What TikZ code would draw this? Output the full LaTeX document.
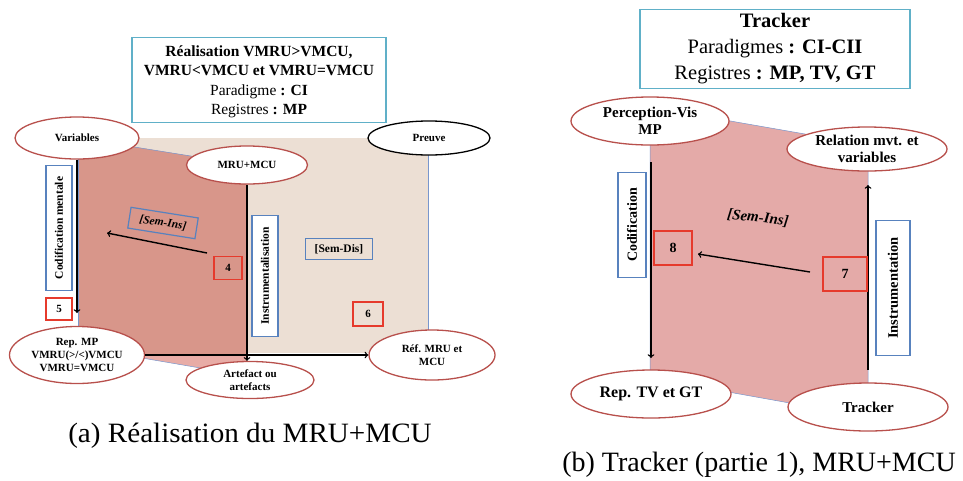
\documentclass[tikz,border=0pt]{standalone}
\usepackage{fontspec}
\setmainfont{Liberation Serif}
\usetikzlibrary{shapes.geometric}

\definecolor{ellred}{RGB}{184,80,76}
\definecolor{boxblue}{RGB}{88,130,190}
\definecolor{titleblue}{RGB}{96,176,200}
\definecolor{numred}{RGB}{230,58,44}
\definecolor{beige}{RGB}{236,223,212}
\definecolor{darkpink}{RGB}{216,150,138}
\definecolor{lightpink}{RGB}{232,172,166}
\definecolor{panelpink}{RGB}{228,170,168}
\definecolor{edgeblue}{RGB}{120,150,205}

\tikzset{
  ell/.style={ellipse, draw=ellred, line width=1.3pt, fill=white, inner sep=0pt,
    align=center, font=\bfseries\fontsize{11}{13}\selectfont},
  bigell/.style={ell, font=\bfseries\fontsize{15}{17}\selectfont},
  label/.style={draw=boxblue, line width=1.2pt, inner sep=0pt, align=center,
    font=\bfseries\fontsize{11.5}{13}\selectfont},
  numbox/.style={draw=numred, line width=1.6pt, inner sep=0pt,
    font=\bfseries\fontsize{11}{13}\selectfont},
  titlebox/.style={draw=titleblue, line width=1.5pt, fill=white, inner sep=0pt, align=center},
  arr/.style={line width=1.4pt,->},
  edge/.style={edgeblue, line width=0.5pt}
}

\begin{document}
\begin{tikzpicture}[x=1pt,y=-1pt]
    \useasboundingbox (0,0) rectangle (963,480);

    % (a) background areas
    \fill[beige] (78,138) rectangle (428,353);
    \fill[lightpink] (78,138) -- (247,165) -- (247,376) -- (78,347) -- cycle;
    \begin{scope}
      \clip (78,138) rectangle (428,353);
      \fill[darkpink] (78,138) -- (247,165) -- (247,376) -- (78,347) -- cycle;
    \end{scope}
    \draw[edge] (78,138) -- (247,165);
    \draw[edge] (78,347) -- (247,376);
    \draw[edge] (78,138) -- (78,347);
    \draw[edge] (428,138) -- (428,353);

    % (a) title
    \node[titlebox, minimum width=254, minimum height=85] (titlea) at (259,80) {};
    \node[align=center, font=\fontsize{15.5}{19.5}\selectfont] at (259,82)
      {\textbf{Réalisation VMRU>VMCU,}\\ \textbf{VMRU<VMCU et VMRU=VMCU}\\
       Paradigme \textbf{: CI}\\ Registres \textbf{: MP}};

    % (a) states
    \node[ell, minimum width=124, minimum height=42] (var) at (77,138) {Variables};
    \node[ell, minimum width=121, minimum height=38] (mru) at (247,165) {MRU+MCU};
    \node[ell, draw=black, minimum width=122, minimum height=34] (preuve) at (429,138) {Preuve};
    \node[ell, minimum width=135, minimum height=57] (rep) at (77,355)
      {Rep. MP\\VMRU(>/<)VMCU\\VMRU=VMCU};
    \node[ell, minimum width=128, minimum height=37] (art) at (250,380) {Artefact ou\\artefacts};
    \node[ell, minimum width=126, minimum height=50] (ref) at (432,355) {Réf. MRU et\\MCU};

    % (a) arrows
    \coordinate (codend) at (77,313);
    \coordinate (semstart) at (207,253);
    \coordinate (semend) at (107,233);
    \draw[arr] (var.south) -- (codend);
    \draw[arr] (mru.south) -- (mru.south |- art.north);
    \draw[arr] (rep.east) -- (ref.west);
    \draw[arr] (semstart) -- (semend);

    % (a) labels
    \node[label, fill=white, rotate=90, minimum width=125, minimum height=26] (coda) at (59,228) {Codification mentale};
    \node[label, fill=white, rotate=90, minimum width=121, minimum height=26] (instra) at (265,276) {Instrumentalisation};
    \node[label, rotate=-9, minimum width=68, minimum height=21,
      font=\bfseries\itshape\fontsize{11.5}{13}\selectfont] (semins) at (163,223) {[Sem-Ins]};
    \node[label, minimum width=67, minimum height=21] (semdis) at (339,249) {[Sem-Dis]};
    \node[numbox, minimum width=28, minimum height=23] (n4) at (228,268) {4};
    \node[numbox, minimum width=26, minimum height=22] (n5) at (59,309) {5};
    \node[numbox, minimum width=30, minimum height=24] (n6) at (368,314) {6};

    % (b) background area
    \fill[panelpink] (650,107) -- (868,145) -- (868,417) -- (650,378) -- cycle;
    \draw[edge] (650,107) -- (868,145) -- (868,417) -- (650,378) -- cycle;

    % (b) title
    \node[titlebox, minimum width=270, minimum height=79, font=\fontsize{20.5}{26}\selectfont]
      (titleb) at (775,49) {\textbf{Tracker}\\ Paradigmes \textbf{: CI-CII}\\ Registres \textbf{: MP, TV, GT}};

    % (b) states
    \node[bigell, minimum width=158, minimum height=48] (perc) at (650,121) {Perception-Vis\\MP};
    \node[bigell, minimum width=160, minimum height=44] (rel) at (867,149) {Relation mvt. et\\variables};
    \node[bigell, minimum width=160, minimum height=48, font=\bfseries\fontsize{16}{19}\selectfont]
      (reptv) at (651,394) {Rep. TV et GT};
    \node[bigell, minimum width=160, minimum height=48, font=\bfseries\fontsize{15}{18}\selectfont]
      (tracker) at (868,407) {Tracker};

    % (b) arrows
    \coordinate (codtop) at (651,162);
    \coordinate (codbot) at (651,358);
    \coordinate (instbot) at (868,370);
    \coordinate (insttop) at (868,185);
    \coordinate (semb1) at (810,272);
    \coordinate (semb2) at (698,254);
    \draw[arr] (codtop) -- (codbot);
    \draw[arr] (instbot) -- (insttop);
    \draw[arr] (semb1) -- (semb2);

    % (b) labels
    \node[label, fill=white, rotate=90, minimum width=105, minimum height=28,
      font=\bfseries\fontsize{14}{16}\selectfont] (codb) at (632,225) {Codification};
    \node[label, fill=white, rotate=90, minimum width=135, minimum height=34,
      font=\bfseries\fontsize{14.5}{16}\selectfont] (instb) at (893,288) {Instrumentation};
    \node[rotate=-7, font=\bfseries\itshape\fontsize{15}{18}\selectfont] (seminsb) at (758,218) {[Sem-Ins]};
    \node[numbox, minimum width=38, minimum height=34, font=\bfseries\fontsize{14}{16}\selectfont] (n8) at (673,248) {8};
    \node[numbox, minimum width=44, minimum height=34, font=\bfseries\fontsize{14}{16}\selectfont] (n7) at (845,274) {7};

    % captions
    \node[font=\fontsize{28}{32}\selectfont, xscale=1.04] (capa) at (250,436) {(a) Réalisation du MRU+MCU};
    \node[font=\fontsize{28}{32}\selectfont] (capb) at (759,465) {(b) Tracker (partie 1), MRU+MCU};
\end{tikzpicture}
\end{document}
